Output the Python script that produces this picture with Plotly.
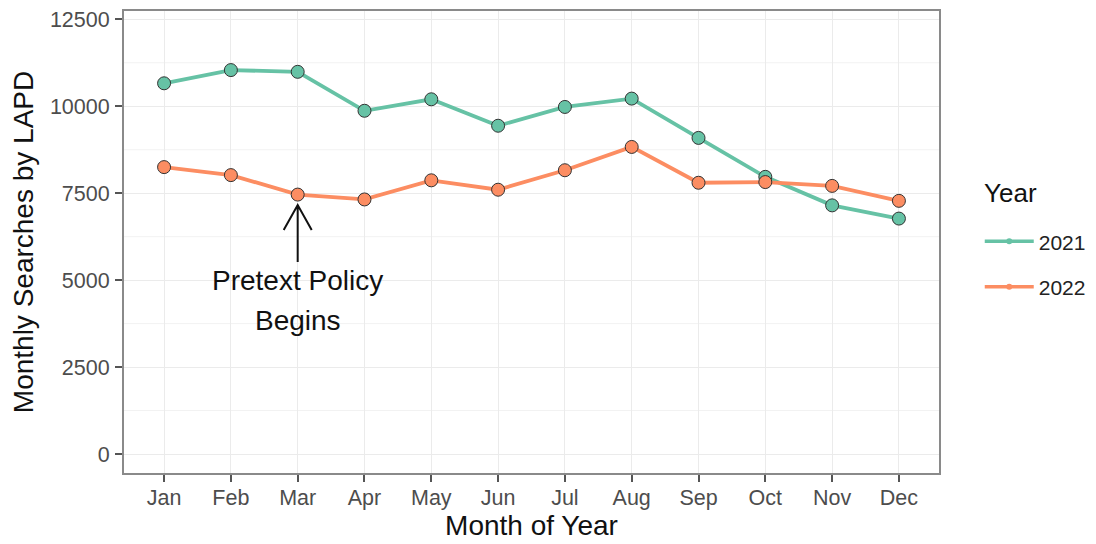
import plotly.graph_objects as go

MONTHS = ["Jan", "Feb", "Mar", "Apr", "May", "Jun",
          "Jul", "Aug", "Sep", "Oct", "Nov", "Dec"]
SEARCHES_2021 = [10660, 11040, 10990, 9870, 10200, 9440,
                 9980, 10220, 9090, 7970, 7150, 6770]
SEARCHES_2022 = [8250, 8020, 7460, 7320, 7870, 7600,
                 8160, 8830, 7800, 7820, 7710, 7280]
YEARS = ["2021", "2022"]
COLORS = {"2021": "#66C2A5", "2022": "#FC8D62"}
Y_TICKS = [0, 2500, 5000, 7500, 10000, 12500]
Y_MINOR = [1250, 3750, 6250, 8750, 11250]

# annotation: arrow pointing at the start of the policy (March)
POLICY_MONTH = "Mar"
ARROW_TIP = 7160
LABEL_LINES = [("Pretext Policy", 5000), ("Begins", 3850)]

FONT = "Liberation Sans, Arial, sans-serif"

# the page body has an 8px margin, so the figure is drawn 8px smaller
W, H = 1088, 536


def main():
    fig = go.Figure()
    series = {"2021": SEARCHES_2021, "2022": SEARCHES_2022}

    for yr in YEARS:
        fig.add_trace(go.Scatter(
            x=MONTHS, y=series[yr], mode="lines+markers", name=yr,
            line=dict(color=COLORS[yr], width=3.8),
            marker=dict(size=13, color=COLORS[yr],
                        line=dict(color="#333333", width=1)),
            showlegend=False,
        ))
        # legend-only key with a small dot, like the ggplot legend
        fig.add_trace(go.Scatter(
            x=[None], y=[None], mode="lines+markers", name=yr,
            legendgroup=yr,
            line=dict(color=COLORS[yr], width=3.5),
            marker=dict(size=6, color=COLORS[yr],
                        line=dict(color=COLORS[yr], width=0)),
        ))

    # minor gridlines
    for v in Y_MINOR:
        fig.add_shape(type="line", xref="paper", x0=0, x1=1, yref="y",
                      y0=v, y1=v, line=dict(color="#F2F2F2", width=1),
                      layer="below")

    # open arrow (pixel path anchored at the tip)
    fig.add_shape(type="path", xref="x", yref="y",
                  xsizemode="pixel", ysizemode="pixel",
                  xanchor=POLICY_MONTH, yanchor=ARROW_TIP,
                  path="M-14,-25 L0,0 L14,-25 M0,0 L0,-57",
                  line=dict(color="#111111", width=2))

    for txt, yv in LABEL_LINES:
        fig.add_annotation(x=POLICY_MONTH, y=yv, text=txt, showarrow=False,
                           font=dict(family=FONT, size=28, color="#111111"),
                           xanchor="center", yanchor="middle")

    # legend title, placed by hand for ggplot-like spacing
    fig.add_annotation(x=1.0528, y=0.606, xref="paper", yref="paper",
                       text="Year", showarrow=False,
                       font=dict(family=FONT, size=26, color="#111111"),
                       xanchor="left", yanchor="middle")

    axis_common = dict(
        showline=True, linecolor="#8A8A8A", linewidth=2, mirror=True,
        ticks="outside", ticklen=7, tickwidth=1.5, tickcolor="#555555",
        gridcolor="#EBEBEB", gridwidth=1.2, zeroline=False,
        tickfont=dict(family=FONT, size=21.5, color="#4D4D4D"),
        ticklabeloverflow="allow",
    )

    fig.update_xaxes(
        type="category", categoryorder="array", categoryarray=MONTHS,
        range=[-0.6, 11.6],
        title=dict(text="Month of Year", standoff=4,
                   font=dict(family=FONT, size=28, color="#111111")),
        ticklabelstandoff=-3,
        **axis_common,
    )
    fig.update_yaxes(
        range=[-546, 12739], tickvals=Y_TICKS, tickformat="d",
        title=dict(text="Monthly Searches by LAPD", standoff=10,
                   font=dict(family=FONT, size=28, color="#111111")),
        ticklabelstandoff=1,
        **axis_common,
    )

    fig.update_layout(
        width=W, height=H,
        margin=dict(l=116, r=157, t=3, b=71, autoexpand=False),
        paper_bgcolor="white", plot_bgcolor="white",
        font=dict(family=FONT),
        legend=dict(
            font=dict(family=FONT, size=21, color="#222222"),
            x=1.050, xanchor="left", y=0.452, yanchor="middle",
            tracegroupgap=15, traceorder="grouped",
            bgcolor="rgba(0,0,0,0)", itemwidth=49,
        ),
    )

    fig.write_html("out.html")


if __name__ == "__main__":
    main()
